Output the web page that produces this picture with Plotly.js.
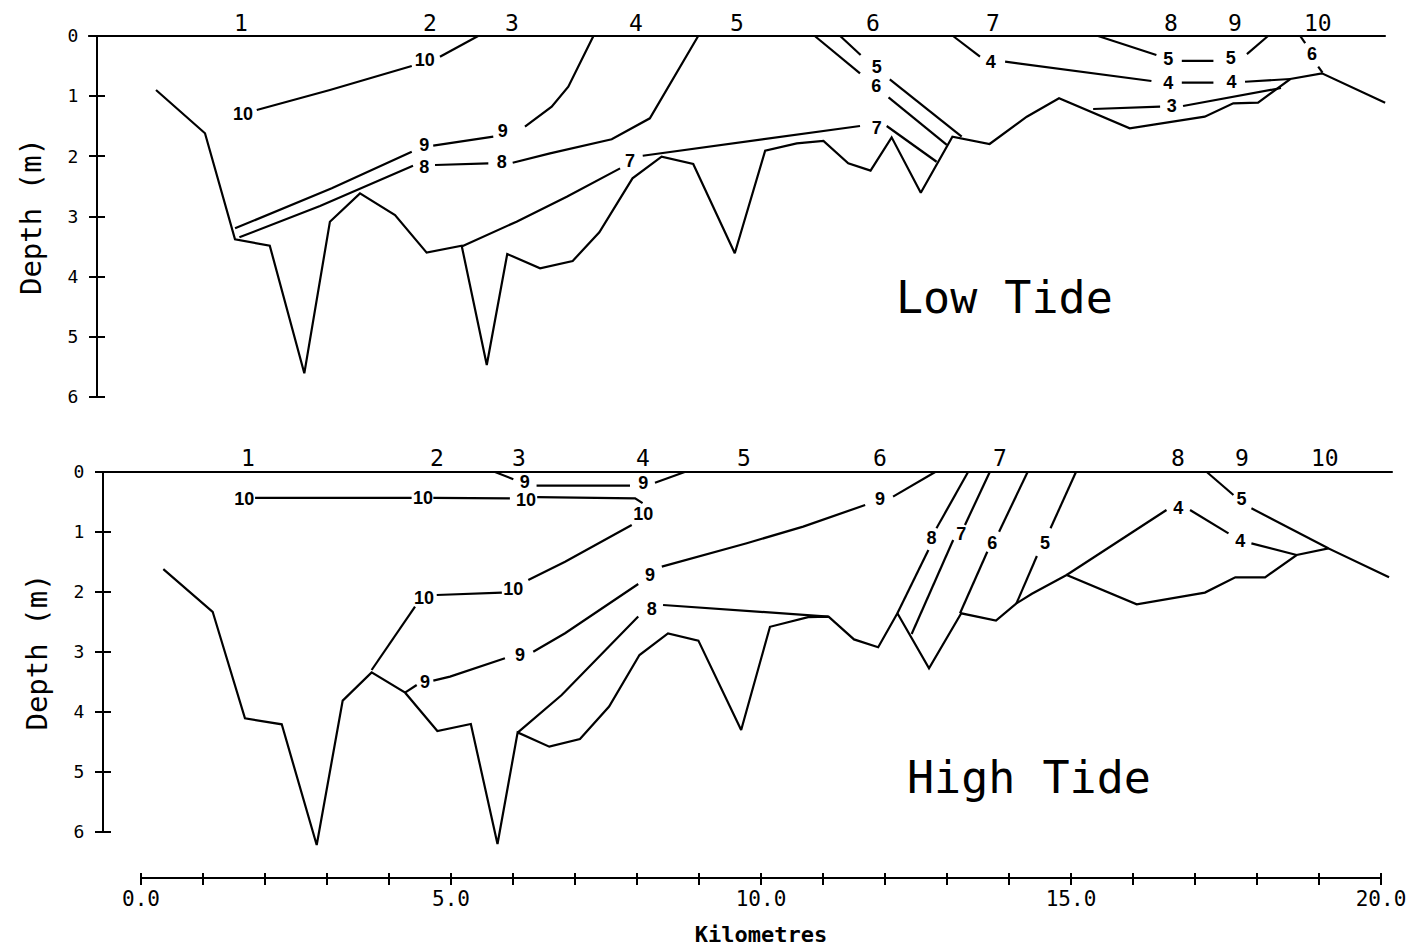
<!DOCTYPE html>
<html>
<head>
<meta charset="utf-8">
<script src="https://cdn.plot.ly/plotly-3.0.1.min.js"></script>
<style>html,body{margin:0;padding:0;background:#fff;}#chart{width:1406px;height:947px;}</style>
</head>
<body>
<div id="chart"></div>
<script>
// ---------- DATA (km along channel, depth in m) ----------
const stationKm = [1.72, 4.77, 6.09, 8.1, 9.72, 11.92, 13.85, 16.73, 17.75, 19.1];
const stationLabels = ['1','2','3','4','5','6','7','8','9','10'];
const surfaceKm = [-0.74, 20.19];
const surfaceDepth = [0, 0];

// Low tide: bed profile
const lowBedKm = [0.355, 1.145, 1.629, 2.19, 2.747, 3.16, 3.645, 4.21, 4.72, 5.285, 5.69, 6.02, 6.55, 7.075, 7.505, 8.04, 8.51, 9.02, 9.69, 10.18, 10.69, 11.12, 11.52, 11.88, 12.22, 12.69, 13.2, 13.8, 14.4, 14.92, 16.06, 17.27, 17.73, 18.13, 18.65, 19.16, 20.18];
const lowBedDepth = [0.897, 1.617, 3.379, 3.485, 5.606, 3.086, 2.615, 2.975, 3.60, 3.485, 5.468, 3.623, 3.861, 3.739, 3.263, 2.366, 2.005, 2.127, 3.61, 1.906, 1.784, 1.745, 2.116, 2.238, 1.684, 2.604, 1.673, 1.795, 1.341, 1.036, 1.534, 1.341, 1.119, 1.108, 0.715, 0.62, 1.108];
// Low tide: salinity isolines (null = gap for label)
const low10Km = [1.98, 3.16, 4.48, null, 4.935, 5.55];
const low10Depth = [1.23, 0.897, 0.499, null, 0.344, 0];
const low9Km = [1.63, 3.19, 4.48, null, 4.826, 5.795, null, 6.306, 6.737, 7.005, 7.41];
const low9Depth = [3.196, 2.53, 1.923, null, 1.823, 1.673, null, 1.507, 1.175, 0.843, 0];
const low8Km = [1.70, 3.0, 4.50, null, 4.855, 5.715, null, 6.108, 6.71, 7.705, 8.32, 9.10];
const low8Depth = [3.346, 2.825, 2.155, null, 2.144, 2.116, null, 2.106, 1.95, 1.717, 1.368, 0];
const low7Km = [5.285, 6.17, 6.98, 7.84, null, 8.205, 10.82, 11.71, null, 12.14, 12.945];
const low7Depth = [3.50, 3.086, 2.67, 2.2, null, 1.99, 1.617, 1.496, null, 1.496, 2.09];
const low6Km = [10.98, 11.71, null, 12.17, 13.11];
const low6Depth = [0, 0.62, null, 1.02, 1.81];
const low5Km = [11.39, 11.72, null, 12.19, 13.35];
const low5Depth = [0, 0.316, null, 0.72, 1.674];
const low4Km = [13.21, 13.645, null, 14.05, 16.41, null, 16.9, 17.41, null, 17.92, 18.65];
const low4Depth = [0, 0.344, null, 0.427, 0.748, null, 0.776, 0.776, null, 0.76, 0.715];
const low5bKm = [15.55, 16.49, null, 16.9, 17.41, null, 17.95, 18.29];
const low5bDepth = [0, 0.316, null, 0.415, 0.415, null, 0.3, 0];
const low6bKm = [18.81, 18.89, null, 19.1, 19.17];
const low6bDepth = [0, 0.12, null, 0.51, 0.61];
const low3Km = [15.47, 16.55, null, 16.92, 18.5];
const low3Depth = [1.213, 1.175, null, 1.163, 0.864];
const lowLabelKm = [1.758, 4.69, 4.68, 5.947, 4.68, 5.93, 8.0, 11.98, 11.98, 11.97, 13.82, 16.68, 17.7, 16.68, 17.69, 19.0, 16.74];
const lowLabelDepth = [1.313, 0.427, 1.84, 1.60, 2.2, 2.116, 2.1, 1.56, 0.536, 0.853, 0.465, 0.80, 0.786, 0.40, 0.387, 0.316, 1.185];
const lowLabelText = ['10','10','9','9','8','8','7','7','5','6','4','4','4','5','5','6','3'];

// High tide: bed profile
const highBedKm = [0.36, 1.156, 1.677, 2.27, 2.834, 3.253, 3.72, 4.26, 4.78, 5.32, 5.75, 6.075, 6.585, 7.08, 7.55, 8.04, 8.5, 8.99, 9.68, 10.145, 10.76, 11.09, 11.5, 11.89, 12.2, 12.71, 13.23, 13.79, 14.12, 14.37, 14.93, 16.06, 17.16, 17.65, 18.13, 18.64, 19.15, 20.13];
const highBedDepth = [1.62, 2.33, 4.105, 4.205, 6.217, 3.81, 3.339, 3.678, 4.317, 4.2, 6.2, 4.34, 4.578, 4.45, 3.91, 3.05, 2.69, 2.81, 4.3, 2.58, 2.42, 2.41, 2.79, 2.92, 2.355, 3.27, 2.355, 2.478, 2.19, 2.03, 1.717, 2.205, 2.01, 1.756, 1.756, 1.383, 1.272, 1.756];
// High tide: salinity isolines
const high10Km = [3.72, 4.42, null, 4.77, 5.82, null, 6.247, 6.84, 7.915, null, 8.09, 7.97, 6.39, null, 5.95, 4.715, null, 4.365, 1.84];
const high10Depth = [3.30, 2.245, null, 2.05, 2.01, null, 1.80, 1.495, 0.883, null, 0.52, 0.44, 0.42, null, 0.44, 0.43, null, 0.43, 0.43];
const high9aKm = [5.71, 6.005, null, 6.38, 7.887, null, 8.29, 8.77];
const high9aDepth = [0, 0.12, null, 0.228, 0.228, null, 0.178, 0];
const high9Km = [4.258, 4.447, null, 4.715, 4.984, 5.87, null, 6.327, 6.84, 8.02, null, 8.40, 9.77, 10.68, 11.68, null, 12.13, 12.81];
const high9Depth = [3.678, 3.55, null, 3.478, 3.41, 3.105, null, 2.995, 2.688, 1.867, null, 1.578, 1.188, 0.91, 0.55, null, 0.41, 0];
const high8Km = [6.075, 6.785, 8.02, null, 8.42, 11.085];
const high8Depth = [4.345, 3.717, 2.41, null, 2.217, 2.41];
const high8bKm = [12.2, 12.7, null, 12.83, 13.34];
const high8bDepth = [2.355, 1.30, null, 0.938, 0];
const high7Km = [12.43, 13.1, null, 13.29, 13.69];
const high7Depth = [2.70, 1.133, null, 0.883, 0];
const high6Km = [13.21, 13.65, null, 13.84, 14.3];
const high6Depth = [2.355, 1.328, null, 0.995, 0];
const high5Km = [14.12, 14.45, null, 14.67, 15.08];
const high5Depth = [2.19, 1.40, null, 0.938, 0];
const high4Km = [14.93, 16.54, null, 16.92, 17.54, null, 17.91, 18.64];
const high4Depth = [1.717, 0.633, null, 0.633, 1.022, null, 1.19, 1.383];
const high5bKm = [17.19, 17.62, null, 17.91, 19.15];
const high5bDepth = [0, 0.383, null, 0.605, 1.272];
const highLabelKm = [1.666, 4.55, 6.21, 8.10, 6.005, 4.565, 6.19, 8.10, 4.58, 6.113, 8.21, 11.92, 8.24, 12.75, 13.23, 13.73, 14.58, 16.73, 17.73, 17.75];
const highLabelDepth = [0.467, 0.455, 0.495, 0.717, 1.967, 2.12, 0.189, 0.205, 3.52, 3.078, 1.745, 0.483, 2.31, 1.133, 1.05, 1.2, 1.2, 0.633, 1.178, 0.483];
const highLabelText = ['10','10','10','10','10','10','9','9','9','9','9','9','8','8','7','6','5','4','4','5'];

// ---------- BUILD ----------
const W = 1406, H = 947;
const monoFont = 'DejaVu Sans Mono';
const labelFont = {family: 'Liberation Sans', size: 18, color: 'black', weight: 'bold'};

function line(xs, ys, xa, ya) {
  return {type: 'scatter', mode: 'lines', x: xs, y: ys, xaxis: xa, yaxis: ya,
    line: {color: 'black', width: 2.2}, connectgaps: false, hoverinfo: 'skip'};
}
function labels(xs, ys, txt, xa, ya) {
  return {type: 'scatter', mode: 'text', x: xs, y: ys, text: txt, xaxis: xa, yaxis: ya,
    textposition: 'middle center', textfont: labelFont, cliponaxis: false, hoverinfo: 'skip'};
}

const traces = [
  // low tide (top panel: x2/y2)
  line(surfaceKm, surfaceDepth, 'x2', 'y2'),
  line(lowBedKm, lowBedDepth, 'x2', 'y2'),
  line(low10Km, low10Depth, 'x2', 'y2'),
  line(low9Km, low9Depth, 'x2', 'y2'),
  line(low8Km, low8Depth, 'x2', 'y2'),
  line(low7Km, low7Depth, 'x2', 'y2'),
  line(low6Km, low6Depth, 'x2', 'y2'),
  line(low5Km, low5Depth, 'x2', 'y2'),
  line(low4Km, low4Depth, 'x2', 'y2'),
  line(low5bKm, low5bDepth, 'x2', 'y2'),
  line(low6bKm, low6bDepth, 'x2', 'y2'),
  line(low3Km, low3Depth, 'x2', 'y2'),
  labels(lowLabelKm, lowLabelDepth, lowLabelText, 'x2', 'y2'),
  // high tide (bottom panel: x/y)
  line(surfaceKm, surfaceDepth, 'x', 'y'),
  line(highBedKm, highBedDepth, 'x', 'y'),
  line(high10Km, high10Depth, 'x', 'y'),
  line(high9aKm, high9aDepth, 'x', 'y'),
  line(high9Km, high9Depth, 'x', 'y'),
  line(high8Km, high8Depth, 'x', 'y'),
  line(high8bKm, high8bDepth, 'x', 'y'),
  line(high7Km, high7Depth, 'x', 'y'),
  line(high6Km, high6Depth, 'x', 'y'),
  line(high5Km, high5Depth, 'x', 'y'),
  line(high4Km, high4Depth, 'x', 'y'),
  line(high5bKm, high5bDepth, 'x', 'y'),
  labels(highLabelKm, highLabelDepth, highLabelText, 'x', 'y'),
  // carriers for the drawn axes
  {type: 'scatter', x: [], y: [], xaxis: 'x3', yaxis: 'y3'},
  {type: 'scatter', x: [], y: [], xaxis: 'x4', yaxis: 'y4'},
  {type: 'scatter', x: [], y: [], xaxis: 'x5', yaxis: 'y5'},
  {type: 'scatter', x: [], y: [], xaxis: 'x6', yaxis: 'y6'}
];

const hidden = {visible: false, showgrid: false, zeroline: false, fixedrange: true};
const tickStyle = {tickwidth: 2, tickcolor: 'black', showgrid: false, zeroline: false};

// Depth axis: "line" version carries line, labels and title; "tick" version carries
// crossing ticks (outside ticks of double length, shifted half a tick to the right).
function depthAxis(axisPx, topPx, botPx, isLine) {
  const ax = Object.assign({}, tickStyle, {
    anchor: 'free', side: 'left',
    position: (isLine ? axisPx : axisPx + 8) / W,
    domain: [1 - botPx / H, 1 - topPx / H], range: [6, 0],
    tickmode: 'linear', tick0: 0, dtick: 1,
    ticks: isLine ? '' : 'outside', ticklen: 16,
    showline: isLine, linewidth: 2, linecolor: 'black',
    showticklabels: isLine, ticklabelstandoff: 14,
    tickfont: {family: monoFont, size: 18, color: 'black'}
  });
  if (isLine) ax.title = {text: '\u00a0Depth (m)', font: {family: monoFont, size: 29, color: 'black'}, standoff: 16};
  return ax;
}
function kmAxis(isLine) {
  const ax = Object.assign({}, tickStyle, {
    anchor: 'free', side: 'bottom',
    position: 1 - (isLine ? 878 : 872) / H,
    domain: [141 / W, 1381 / W], range: [0, 20],
    tickmode: 'linear', tick0: 0, dtick: 5, tickformat: '.1f',
    ticks: isLine ? '' : 'outside', ticklen: 12,
    minor: isLine ? {ticks: ''} : {dtick: 1, ticks: 'outside', ticklen: 12, tickwidth: 2, tickcolor: 'black', showgrid: false},
    showline: isLine, linewidth: 2, linecolor: 'black',
    showticklabels: isLine, ticklabeloverflow: 'allow', ticklabelstandoff: 2,
    tickfont: {family: monoFont, size: 21, color: 'black'}
  });
  if (isLine) ax.title = {text: 'Kilometres', font: {family: monoFont, size: 22, color: 'black', weight: 'bold'}, standoff: 20};
  return ax;
}

const annotations = [];
stationKm.forEach((k, i) => {
  annotations.push({xref: 'x2', yref: 'paper', x: k, y: 1 - 23 / H, text: stationLabels[i], showarrow: false,
    font: {family: monoFont, size: 23, color: 'black'}, xanchor: 'center', yanchor: 'middle'});
  annotations.push({xref: 'x', yref: 'paper', x: k, y: 1 - 458 / H, text: stationLabels[i], showarrow: false,
    font: {family: monoFont, size: 23, color: 'black'}, xanchor: 'center', yanchor: 'middle'});
});
annotations.push({xref: 'paper', yref: 'paper', x: 1005 / W, y: 1 - 298 / H, text: 'Low Tide', showarrow: false,
  font: {family: monoFont, size: 45, color: 'black'}, xanchor: 'center', yanchor: 'middle'});
annotations.push({xref: 'paper', yref: 'paper', x: 1029 / W, y: 1 - 777 / H, text: 'High Tide', showarrow: false,
  font: {family: monoFont, size: 45, color: 'black'}, xanchor: 'center', yanchor: 'middle'});

const layout = {
  width: W, height: H,
  margin: {l: 0, r: 0, t: 0, b: 0},
  paper_bgcolor: 'white', plot_bgcolor: 'rgba(0,0,0,0)',
  showlegend: false,
  // data axes: high tide (bottom) and low tide (top)
  xaxis: Object.assign({}, hidden, {domain: [0, 1], range: [-141 / 62, (W - 141) / 62], anchor: 'y'}),
  yaxis: Object.assign({}, hidden, {domain: [1 - 870 / H, 1 - 440 / H], range: [(870 - 472) / 60, (440 - 472) / 60], anchor: 'x'}),
  xaxis2: Object.assign({}, hidden, {domain: [0, 1], range: [-134 / 62, (W - 134) / 62], anchor: 'y2'}),
  yaxis2: Object.assign({}, hidden, {domain: [1 - 420 / H, 1 - 5 / H], range: [(420 - 36) / 60.17, (5 - 36) / 60.17], anchor: 'x2'}),
  // drawn axes
  xaxis3: kmAxis(true),
  xaxis4: kmAxis(false),
  yaxis3: depthAxis(97, 36, 397, true),
  yaxis4: depthAxis(97, 36, 397, false),
  xaxis5: Object.assign({}, hidden, {domain: [0, 1], range: [0, 1], anchor: 'y5'}),
  xaxis6: Object.assign({}, hidden, {domain: [0, 1], range: [0, 1], anchor: 'y6'}),
  yaxis5: depthAxis(103, 472, 832, true),
  yaxis6: depthAxis(103, 472, 832, false),
  annotations: annotations
};

Plotly.newPlot('chart', traces, layout, {staticPlot: true, displayModeBar: false});
</script>
</body>
</html>
